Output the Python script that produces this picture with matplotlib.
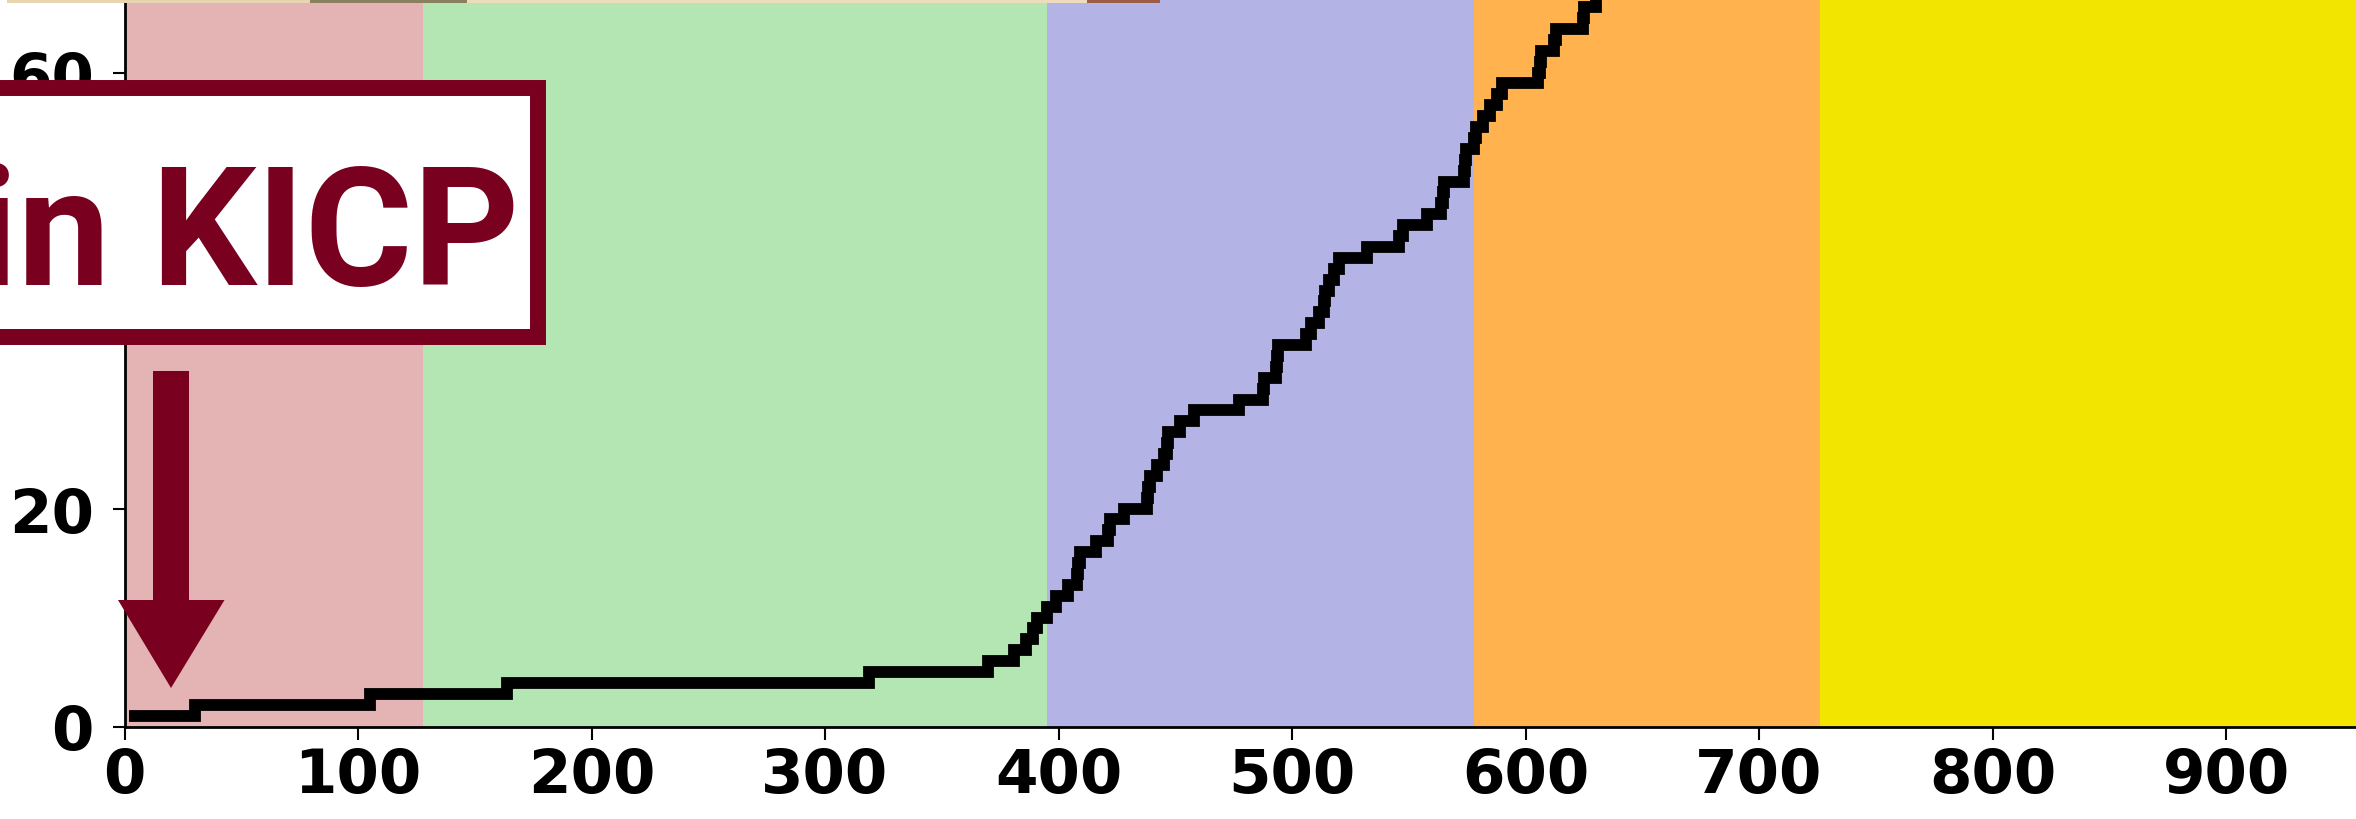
import numpy as np
import matplotlib
matplotlib.use('Agg')
import matplotlib.pyplot as plt
from matplotlib.patches import Rectangle, Polygon

# running total of events against day
event_day = [2, 30, 105, 164, 319, 370, 381, 386, 389, 391, 395, 399, 404, 408,
             408.5, 409, 416, 421, 422, 428, 438, 438.5, 439, 442, 445, 446.5, 447,
             452, 458, 477.5, 487.5, 488, 493, 493.5, 494, 506, 508, 511.5, 513.5,
             514, 516, 518, 520, 532, 546, 547.5, 558, 564, 564.5, 565, 573.5, 574,
             574.5, 578, 579, 582, 585, 588, 590, 605.5, 606, 606.5, 612, 613, 624.5,
             625, 630, 633]
total = [1, 2, 3, 4, 5, 6, 7, 8, 9, 10, 11, 12, 13, 14, 15, 16, 17, 18, 19, 20,
         21, 22, 23, 24, 25, 26, 27, 28, 29, 30, 31, 32, 33, 34, 35, 36, 37, 38, 39,
         40, 41, 42, 43, 44, 45, 46, 47, 48, 49, 50, 51, 52, 53, 54, 55, 56, 57, 58,
         59, 60, 61, 62, 63, 64, 65, 66, 67, 68]

# shaded periods
period_start = [0, 128, 395, 578, 726]
period_end = [128, 395, 578, 726, 1000]
period_color = ['#E4B3B3', '#B3E6B3', '#B3B3E6', '#FFB24D', '#F2E600']

x_ticks = [0, 100, 200, 300, 400, 500, 600, 700, 800, 900]
y_ticks = [0, 20, 40, 60]

W, H = 2356, 820
DARK_RED = '#7A0020'

def fx(px):
    return px / W

def fy(py):
    return 1 - py / H

fig = plt.figure(figsize=(W / 100, H / 100), dpi=100)
ax = fig.add_axes([fx(124.5), fy(727.5), 1 - fx(124.5), 727.5 / H])

for x0, x1, c in zip(period_start, period_end, period_color):
    ax.axvspan(x0, x1, color=c, lw=0, zorder=0)

ax.step(event_day, total, where='post', color='black', lw=8.5,
        solid_capstyle='butt', solid_joinstyle='miter', zorder=2)

ax.set_xlim(0, (W - 124.5) / 2.335)
ax.set_ylim(0, 727.5 / 10.9)
ax.set_xticks(x_ticks)
ax.set_yticks(y_ticks)
ax.spines['top'].set_visible(False)
ax.spines['right'].set_visible(False)
ax.spines['left'].set_linewidth(2)
ax.spines['bottom'].set_linewidth(2)
ax.tick_params(axis='x', length=9, width=1.5, pad=5)
ax.tick_params(axis='y', length=9, width=1.5, pad=13)
for lab in ax.get_xticklabels() + ax.get_yticklabels():
    lab.set_fontsize(44)
    lab.set_fontweight('bold')
    lab.set_family('DejaVu Sans')

# thin photo strip along the top edge
for x0, x1, c in [(7, 310, '#E8D5B0'), (310, 467, '#8A8060'),
                  (467, 1087, '#ECDCBC'), (1087, 1160, '#9A5E48')]:
    fig.add_artist(Rectangle((fx(x0), fy(4)), fx(x1) - fx(x0), 4 / H,
                             transform=fig.transFigure, color=c, lw=0, zorder=5))

# label box
fig.add_artist(Rectangle((fx(-60), fy(338)), fx(538) - fx(-60), (338 - 89) / H,
                         transform=fig.transFigure, facecolor='white',
                         edgecolor=DARK_RED, lw=11.5, zorder=5))
fig.text(fx(519), fy(285), 'in KICP', ha='right', va='baseline',
         fontsize=119, fontweight='bold', family=['Roboto', 'DejaVu Sans'],
         color=DARK_RED, zorder=6)

# pointer arrow
arrow_px = [(153, 372), (189, 372), (189, 601), (224.5, 601), (171, 689),
            (118, 601), (153, 601)]
fig.add_artist(Polygon([(fx(x), fy(y)) for x, y in arrow_px], closed=True,
                       transform=fig.transFigure, color=DARK_RED, lw=0, zorder=5))

fig.savefig('out.png', dpi=100)
